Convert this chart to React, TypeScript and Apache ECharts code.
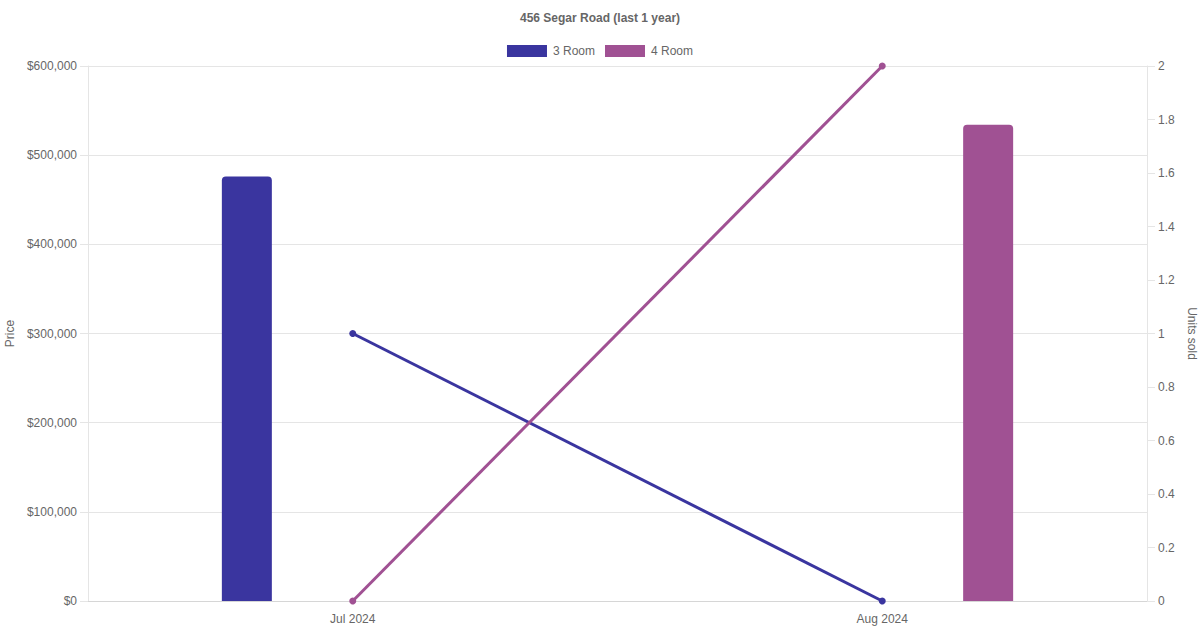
import React, { useEffect, useRef } from "react";
import * as echarts from "echarts";

const categories = ["Jul 2024", "Aug 2024"];
const seriesNames = ["3 Room", "4 Room"];
const price3Room: (number | null)[] = [476000, null];
const price4Room: (number | null)[] = [null, 534000];
const units3Room = [1, 0];
const units4Room = [0, 2];
const colors = ["#3a359f", "#a05193"];

const FONT = "'Liberation Sans', Arial, Helvetica, sans-serif";
const TXT = "#666";
const GRID = "#e5e5e5";

export default function App() {
  const ref = useRef<HTMLDivElement>(null);
  useEffect(() => {
    document.body.style.margin = "0";
    const chart = echarts.init(ref.current!, null, { renderer: "svg" });
    chart.setOption({
      animation: false,
      textStyle: { fontFamily: FONT },
      title: {
        text: "456 Segar Road (last 1 year)",
        left: "center",
        top: 7,
        textStyle: { fontFamily: FONT, fontSize: 12, fontWeight: "bold", color: TXT },
      },
      legend: {
        data: seriesNames,
        top: 40,
        left: "center",
        icon: "rect",
        itemWidth: 40,
        itemHeight: 12,
        itemGap: 10,
        textStyle: { fontFamily: FONT, fontSize: 12, color: TXT, padding: [0, 0, 0, 1] },
      },
      grid: {
        left: 88,
        right: 53,
        top: 66,
        bottom: 29,
        containLabel: false,
        outerBoundsMode: "none",
      },
      xAxis: {
        type: "category",
        data: categories,
        axisLine: { show: true, lineStyle: { color: "#d6d6d6" } },
        axisTick: { show: false },
        splitLine: { show: false },
        axisLabel: { color: TXT, fontSize: 12, fontFamily: FONT, margin: 12 },
      },
      yAxis: [
        {
          type: "value",
          min: 0,
          max: 600000,
          interval: 100000,
          name: "Price",
          nameLocation: "middle",
          nameGap: 67,
          nameTextStyle: { color: TXT, fontSize: 12, fontFamily: FONT },
          axisLine: { show: true, lineStyle: { color: GRID } },
          axisTick: { show: true, length: 8, lineStyle: { color: GRID } },
          splitLine: { show: true, lineStyle: { color: GRID } },
          axisLabel: {
            color: TXT,
            fontSize: 12,
            fontFamily: FONT,
            margin: 11,
            formatter: (v: number) => "$" + v.toLocaleString("en-US"),
          },
        },
        {
          type: "value",
          min: 0,
          max: 2,
          interval: 0.2,
          position: "right",
          name: "Units sold",
          nameLocation: "middle",
          nameRotate: -90,
          nameGap: 30,
          nameTextStyle: { color: TXT, fontSize: 12, fontFamily: FONT },
          axisLine: { show: true, lineStyle: { color: GRID } },
          axisTick: { show: true, length: 8, lineStyle: { color: GRID } },
          splitLine: { show: false },
          axisLabel: {
            color: TXT,
            fontSize: 12,
            fontFamily: FONT,
            margin: 11,
            formatter: (v: number) => String(Math.round(v * 10) / 10),
          },
        },
      ],
      series: [
        {
          name: seriesNames[0],
          type: "bar",
          data: price3Room,
          yAxisIndex: 0,
          barWidth: 50,
          barGap: "323.6%",
          itemStyle: { color: colors[0], borderRadius: [4, 4, 0, 0] },
        },
        {
          name: seriesNames[1],
          type: "bar",
          data: price4Room,
          yAxisIndex: 0,
          barWidth: 50,
          barGap: "323.6%",
          itemStyle: { color: colors[1], borderRadius: [4, 4, 0, 0] },
        },
        {
          name: seriesNames[0],
          type: "line",
          data: units3Room,
          yAxisIndex: 1,
          symbol: "circle",
          symbolSize: 7,
          lineStyle: { color: colors[0], width: 3 },
          itemStyle: { color: colors[0] },
          z: 3,
        },
        {
          name: seriesNames[1],
          type: "line",
          data: units4Room,
          yAxisIndex: 1,
          symbol: "circle",
          symbolSize: 7,
          lineStyle: { color: colors[1], width: 3 },
          itemStyle: { color: colors[1] },
          z: 3,
        },
      ],
    });
    return () => chart.dispose();
  }, []);
  return <div ref={ref} style={{ width: 1200, height: 630 }} />;
}
